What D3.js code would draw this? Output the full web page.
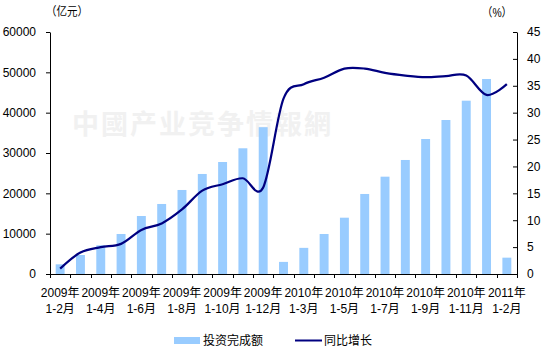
<!DOCTYPE html>
<html><head><meta charset="utf-8">
<script src="https://cdn.jsdelivr.net/npm/d3@7/dist/d3.min.js"></script>
<style>
html,body{margin:0;padding:0;background:#fff;}
svg{display:block;font-family:"Liberation Sans","Noto Sans CJK SC",sans-serif;}
</style></head>
<body><svg id="c" width="544" height="355"></svg>
<script>
const categories = [
  "2009年 1-2月","2009年 1-3月","2009年 1-4月","2009年 1-5月","2009年 1-6月","2009年 1-7月",
  "2009年 1-8月","2009年 1-9月","2009年 1-10月","2009年 1-11月","2009年 1-12月",
  "2010年 1-2月","2010年 1-3月","2010年 1-4月","2010年 1-5月","2010年 1-6月","2010年 1-7月",
  "2010年 1-8月","2010年 1-9月","2010年 1-10月","2010年 1-11月","2010年 1-12月",
  "2011年 1-2月"
];
const investment = [2400,4710,7110,9920,14380,17360,20830,24800,27770,31170,36400,
  3000,6480,9920,13960,19840,24130,28270,33470,38180,42970,48350,
  4050];
const growth = [1.0,4.0,5.0,5.6,8.2,9.4,12.0,15.5,16.7,17.8,16.1,
  32.6,35.3,36.5,38.2,38.2,37.4,36.9,36.6,36.8,36.9,33.3,
  35.3];
const leftTicks = [0,10000,20000,30000,40000,50000,60000];
const rightTicks = [0,5,10,15,20,25,30,35,40,45];
const seriesNames = ["投资完成额","同比增长"];
const leftUnit = "（亿元）", rightUnit = "（%）";
const watermark = "中國产业竞争情報網";

const svg = d3.select("#c");
const L = 50, R = 517, T = 32, B = 274;

const xb = d3.scaleBand().domain(categories).range([L, R]).paddingInner(0.56).paddingOuter(0.28);
const xp = d3.scalePoint().domain(categories).range([L, R]).padding(0.5);
const yL = d3.scaleLinear().domain([0, 60000]).range([B, T]);
const yR = d3.scaleLinear().domain([0, 45]).range([B, T]);

// watermark
svg.append("text").attr("x", 72).attr("y", 134)
  .attr("font-family", "'Noto Sans CJK SC'").attr("font-weight", "bold")
  .attr("font-size", 27).attr("letter-spacing", 2).attr("fill", "#f1f1f1")
  .text(watermark);

// bars
svg.append("g").selectAll("rect").data(investment).join("rect")
  .attr("x", (d, i) => xb(categories[i]))
  .attr("width", xb.bandwidth())
  .attr("y", d => yL(d))
  .attr("height", d => yL(0) - yL(d))
  .attr("fill", "#99ccff");

// line
const line = d3.line()
  .x((d, i) => xp(categories[i]))
  .y(d => yR(d))
  .curve(d3.curveCardinal.tension(0));
svg.append("path").datum(growth).attr("d", line)
  .attr("fill", "none").attr("stroke", "#000080").attr("stroke-width", 2.2)
  .attr("stroke-linejoin", "round");

// left axis
const gl = svg.append("g").attr("transform", `translate(${L},0)`)
  .call(d3.axisLeft(yL).tickValues(leftTicks).tickFormat(d3.format("d")).tickSizeInner(4).tickSizeOuter(0).tickPadding(10));
gl.select(".domain").attr("stroke", "#000");
gl.selectAll(".tick line").attr("stroke", "#000");
gl.selectAll("text").attr("font-size", 12).attr("fill", "#000").attr("font-family", "'Liberation Sans',sans-serif");

// right axis
const gr = svg.append("g").attr("transform", `translate(${R},0)`)
  .call(d3.axisRight(yR).tickValues(rightTicks).tickSizeInner(-4).tickSizeOuter(0).tickPadding(10));
gr.select(".domain").attr("stroke", "#000");
gr.selectAll(".tick line").attr("stroke", "#000");
gr.selectAll("text").attr("font-size", 12).attr("fill", "#000").attr("font-family", "'Liberation Sans',sans-serif");

// bottom axis line and tick marks at category boundaries
const step = xp.step();
svg.append("line").attr("x1", L).attr("x2", R).attr("y1", B + 0.5).attr("y2", B + 0.5).attr("stroke", "#000");
const bounds = categories.map(c => xp(c) - step / 2).concat([xp(categories[categories.length - 1]) + step / 2]);
svg.append("g").selectAll("line").data(bounds).join("line")
  .attr("x1", d => Math.round(d) + 0.5).attr("x2", d => Math.round(d) + 0.5)
  .attr("y1", B).attr("y2", B + 4).attr("stroke", "#000");

// x labels (every other category)
const xl = svg.append("g").attr("font-size", 12).attr("fill", "#000").attr("text-anchor", "middle");
categories.forEach((c, i) => {
  if (i % 2 !== 0) return;
  const [yr, mo] = c.split(" ");
  const t = xl.append("text").attr("x", xp(c));
  t.append("tspan").attr("x", xp(c)).attr("y", 297).text(yr);
  t.append("tspan").attr("x", xp(c)).attr("y", 313).text(mo);
});

// units
svg.append("text").attr("x", 46).attr("y", 16).attr("font-size", 12)
  .attr("textLength", 42).attr("lengthAdjust", "spacingAndGlyphs").text(leftUnit);
svg.append("text").attr("x", 482).attr("y", 17).attr("font-size", 12)
  .attr("textLength", 30).attr("lengthAdjust", "spacingAndGlyphs").text(rightUnit);

// legend
const lg = svg.append("g").attr("font-size", 12).attr("fill", "#000");
lg.append("rect").attr("x", 174).attr("y", 337).attr("width", 26).attr("height", 7).attr("fill", "#99ccff");
lg.append("text").attr("x", 203).attr("y", 345).text(seriesNames[0]);
lg.append("line").attr("x1", 295).attr("x2", 322).attr("y1", 340.5).attr("y2", 340.5)
  .attr("stroke", "#000080").attr("stroke-width", 2);
lg.append("text").attr("x", 324).attr("y", 345).text(seriesNames[1]);
</script></body></html>
